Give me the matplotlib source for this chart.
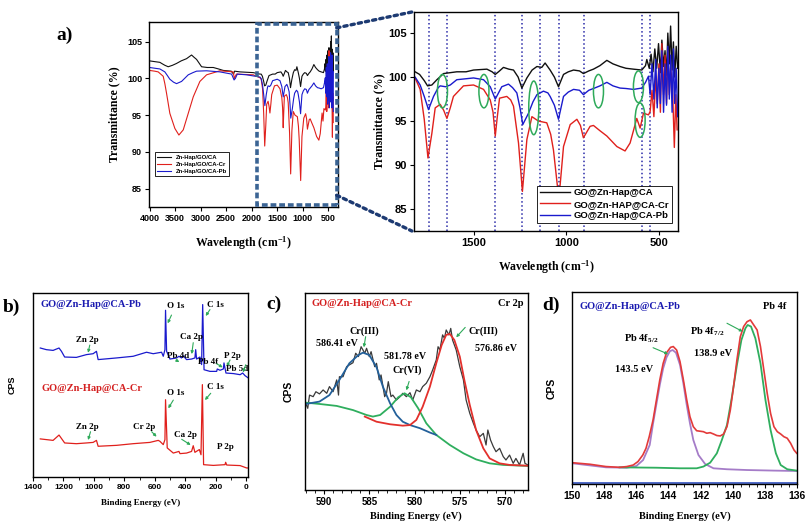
import matplotlib
matplotlib.use("Agg")
import matplotlib.pyplot as plt
from matplotlib.patches import Rectangle, Ellipse, ConnectionPatch
from matplotlib.ticker import MultipleLocator

SERIF = "Liberation Serif"
SANS = "Liberation Sans"
plt.rcParams["font.family"] = SANS
plt.rcParams["font.weight"] = "bold"
plt.rcParams["mathtext.default"] = "regular"

RED = "#e0201c"
BLUE = "#1a1acd"
BLACK = "#101010"
GREEN = "#2eaa5a"

# ── FTIR spectra (wavenumber cm-1, transmittance %) ──────────
wn_ca = [4000, 3900, 3797, 3750, 3700, 3634, 3550, 3471, 3380, 3275, 3177, 3130,
         3079, 3020, 2981, 2870, 2752, 2650, 2557, 2400, 2355, 2335, 2230, 2100,
         1969, 1838, 1814, 1790, 1765, 1747, 1724, 1697, 1661, 1590, 1540, 1500,
         1428, 1400, 1383, 1360, 1339, 1310, 1285, 1260, 1240, 1213, 1185, 1159,
         1133, 1115, 1088, 1065, 1043, 1016, 990, 962, 930, 909, 880, 855, 820,
         783, 750, 712, 680, 640, 595, 575, 568, 555, 545, 535, 525, 515, 505,
         495, 487, 478, 470, 462, 455, 447, 440, 432, 425, 418, 410, 402]
t_ca = [102.4, 102.3, 102.2, 102.0, 101.8, 101.6, 101.8, 102.05, 102.4, 102.7,
        103.2, 102.9, 102.6, 102.0, 101.6, 101.5, 101.5, 101.3, 101.1, 101.0,
        100.6, 101.0, 100.9, 100.85, 100.8, 100.6, 100.6, 100.3, 99.6, 99.0,
        99.1, 99.7, 100.4, 100.6, 100.6, 100.8, 100.9, 100.6, 100.3, 100.7,
        101.1, 100.9, 100.8, 100.0, 98.75, 99.9, 100.8, 101.2, 101.1, 101.6,
        100.8, 100.0, 98.9, 100.3, 100.6, 100.8, 100.7, 100.4, 100.7, 100.9,
        101.3, 101.9, 101.5, 101.2, 101.0, 100.9, 100.8, 101.3, 102.0, 101.0,
        102.6, 100.6, 103.2, 101.0, 103.8, 100.5, 104.2, 101.2, 103.0, 100.2,
        105.0, 101.5, 105.8, 100.8, 104.0, 100.0, 103.5, 101.0]

wn_cr = [4000, 3900, 3830, 3732, 3700, 3667, 3602, 3504, 3425, 3340, 3242, 3144,
         3014, 2883, 2622, 2361, 2340, 2300, 1969, 1838, 1814, 1787, 1765, 1745,
         1724, 1706, 1679, 1660, 1643, 1625, 1608, 1554, 1500, 1446, 1410, 1395,
         1383, 1372, 1360, 1321, 1300, 1285, 1258, 1237, 1213, 1186, 1151, 1106,
         1085, 1070, 1041, 1016, 980, 944, 925, 909, 873, 855, 820, 783, 729, 685,
         658, 622, 604, 586, 559, 550, 540, 530, 520, 512, 503, 495, 487, 478,
         470, 462, 455, 447, 440, 430, 420, 412, 405]
t_cr = [101.1, 101.0, 100.9, 100.3, 99.3, 98.0, 95.25, 93.2, 92.3, 93.0, 95.25,
        97.5, 99.6, 100.5, 101.05, 100.9, 100.0, 100.6, 100.5, 100.1, 99.9, 98.6,
        95.2, 90.8, 93.6, 96.5, 96.9, 96.2, 95.3, 96.5, 97.8, 99.0, 99.1, 98.6,
        97.4, 96.0, 93.3, 95.5, 97.6, 97.8, 97.4, 96.7, 92.5, 87.0, 92.9, 95.5,
        95.0, 94.8, 93.5, 91.7, 86.1, 92.1, 94.6, 95.2, 94.5, 93.1, 94.4, 94.5,
        93.9, 93.3, 92.1, 91.6, 92.5, 95.3, 94.2, 95.9, 95.7, 96.1, 98.5, 95.5,
        100.0, 97.0, 101.5, 96.0, 103.8, 98.0, 102.5, 97.0, 103.0, 98.0, 101.0,
        99.0, 92.0, 98.0, 94.0]

wn_pb = [4000, 3900, 3797, 3700, 3650, 3602, 3530, 3471, 3373, 3300, 3242, 3150,
         3079, 2883, 2622, 2393, 2345, 2320, 2282, 2099, 1969, 1838, 1814, 1787,
         1765, 1742, 1715, 1690, 1679, 1650, 1625, 1590, 1500, 1446, 1410, 1383,
         1348, 1312, 1290, 1267, 1250, 1235, 1204, 1180, 1159, 1124, 1100, 1088,
         1065, 1043, 1016, 990, 962, 930, 909, 880, 855, 820, 783, 750, 712, 680,
         640, 595, 575, 559, 550, 540, 530, 520, 512, 503, 495, 487, 478, 470,
         462, 455, 447, 440, 432, 425, 418, 410, 402]
t_pb = [101.5, 101.4, 101.3, 100.9, 100.4, 99.9, 99.5, 99.3, 99.6, 100.1, 100.5,
        100.8, 101.0, 101.05, 100.9, 100.6, 99.8, 100.0, 100.6, 100.5, 100.35,
        100.2, 100.0, 99.1, 97.8, 96.3, 97.8, 98.8, 99.0, 98.9, 99.1, 99.7, 99.9,
        99.7, 98.9, 97.5, 98.9, 99.2, 98.8, 98.2, 96.5, 94.6, 95.9, 97.2, 98.0,
        98.4, 98.2, 97.8, 96.8, 95.2, 97.8, 98.3, 98.6, 98.5, 98.0, 98.5, 98.7,
        99.0, 99.4, 99.0, 98.75, 98.7, 98.6, 98.75, 99.4, 100.1, 98.0, 101.5,
        97.5, 102.0, 96.5, 101.0, 97.0, 103.0, 96.0, 101.5, 96.8, 103.5, 97.5,
        102.5, 96.0, 103.2, 97.0, 101.0, 95.5]

ZOOM_WN = (1897, 336)
BAND_LINES = [1742, 1643, 1383, 1237, 1145, 1041, 907, 593, 550]
CIRCLE_WN = [1667, 1444, 1176, 828, 613, 604]
CIRCLE_T = [98.4, 98.4, 96.5, 98.4, 98.9, 95.1]
CIRCLE_H = [3.8, 3.8, 6.1, 3.8, 3.6, 3.9]

# ── XPS survey (binding energy eV, relative counts) ──────────
be_pb = [1352, 1312, 1268, 1229, 1213, 1192, 1115, 1049, 1005, 983, 972, 851,
         742, 654, 610, 555, 544, 533, 529, 522, 500, 456, 441, 424, 413, 391,
         358, 336, 331, 325, 303, 292, 285, 276, 237, 193, 189, 171, 149, 145,
         132, 83, 39, 22, 7, -15]
cps_pb = [70.1, 69.2, 68.8, 70.1, 68.3, 65.2, 65.0, 66.5, 67.0, 68.3, 63.8, 64.7,
          65.6, 67.8, 67.0, 67.8, 65.6, 69.2, 90.6, 68.3, 64.1, 64.7, 65.6, 64.7,
          65.9, 63.8, 64.1, 64.7, 69.2, 64.1, 65.2, 61.1, 93.7, 58.3, 57.4, 57.4,
          58.7, 58.0, 58.7, 62.0, 56.5, 56.2, 55.6, 56.5, 55.1, 53.8]
be_cr = [1352, 1268, 1229, 1192, 1115, 1049, 1005, 983, 972, 851, 742, 632, 577,
         566, 544, 533, 529, 518, 478, 441, 434, 391, 358, 347, 336, 307, 296,
         287, 279, 215, 138, 134, 127, 39, -4, -15]
cps_cr = [20.7, 19.9, 22.8, 18.5, 18.1, 18.5, 18.8, 19.9, 16.7, 17.2, 18.1, 18.8,
          19.9, 19.4, 17.6, 20.3, 42.0, 15.8, 13.0, 13.9, 12.7, 13.0, 13.9, 17.0,
          13.4, 14.9, 12.1, 50.2, 6.7, 6.3, 6.7, 8.0, 6.5, 6.2, 4.9, 4.9]

# ── Cr 2p high resolution ───────────────────────────────────
cr_be = [592.1, 591.8, 591.6, 591.2, 590.9, 590.5, 590.1, 589.7, 589.4, 589.0,
         588.6, 588.4, 588.3, 587.9, 587.5, 587.2, 586.8, 586.5, 586.2, 585.9,
         585.5, 585.3, 585.0, 584.8, 584.4, 584.2, 583.9, 583.7, 583.3, 583.1,
         582.9, 582.6, 582.4, 582.0, 581.6, 581.3, 580.9, 580.5, 580.2, 579.8,
         579.4, 579.1, 578.7, 578.3, 578.0, 577.6, 577.4, 577.2, 576.9, 576.7,
         576.5, 576.2, 576.0, 575.8, 575.4, 575.0, 574.6, 574.3, 573.9, 573.5,
         573.2, 572.8, 572.4, 572.1, 571.9, 571.6, 571.3, 571.0, 570.6, 570.2,
         569.9, 569.5, 569.1, 568.8, 568.4, 568.0, 567.8, 567.5]
cr_raw = [44.8, 41.4, 48.1, 47.3, 49.8, 48.7, 50.7, 49.0, 52.4, 49.8,
          55.8, 48.1, 57.4, 57.4, 62.5, 63.4, 64.5, 69.3, 67.6, 72.6,
          69.3, 71.8, 67.6, 70.1, 62.5, 64.2, 55.8, 58.3, 47.3, 49.0,
          54.9, 47.3, 48.1, 45.6, 47.3, 49.0, 47.3, 49.3, 45.6, 50.7,
          49.8, 52.4, 54.1, 57.4, 60.8, 65.9, 72.6, 71.0, 78.6, 76.9,
          81.1, 78.6, 81.9, 76.0, 71.0, 62.5, 55.8, 45.6, 38.9, 33.8,
          30.4, 27.0, 28.7, 22.8, 30.4, 25.3, 22.0, 19.4, 21.1, 16.9,
          15.2, 17.7, 13.5, 16.0, 12.7, 18.6, 13.5, 12.7]
cr3a_be = [592.0, 590.5, 589.4, 588.3, 587.2, 586.2, 585.7, 585.0, 584.2, 583.5,
           582.7, 582.0, 581.3, 580.5, 579.4, 578.3, 577.6]
cr3a_fit = [43.6, 44.8, 48.1, 55.8, 64.2, 68.4, 69.6, 68.4, 62.2, 52.4,
            43.9, 38.0, 34.6, 32.9, 31.3, 29.1, 27.9]
cr6_be = [592.1, 590.5, 588.6, 586.8, 585.3, 584.6, 583.8, 582.7, 581.8, 581.1,
          580.4, 579.6, 578.7, 577.6, 576.1, 574.6, 573.2, 571.7, 570.2, 567.5]
cr6_fit = [44.3, 43.6, 42.6, 40.5, 38.0, 37.2, 38.0, 42.2, 47.0, 49.0,
           47.0, 41.4, 33.8, 27.9, 22.8, 18.6, 15.5, 13.5, 12.7, 12.2]
cr3b_be = [585.5, 584.2, 582.7, 581.3, 580.5, 579.8, 579.1, 578.3, 577.6, 577.0,
           576.5, 576.1, 575.6, 575.0, 574.5, 573.9, 573.2, 572.4, 571.7, 570.6,
           569.5, 567.5]
cr3b_fit = [37.2, 34.6, 33.3, 32.6, 32.9, 35.5, 42.2, 52.4, 64.2, 73.5,
            78.6, 79.1, 76.0, 67.6, 55.8, 43.1, 30.4, 21.1, 16.0, 13.5,
            12.7, 12.3]

# ── Pb 4f high resolution ───────────────────────────────────
pb_be = [150.0, 148.9, 147.9, 147.05, 146.6, 146.2, 145.9, 145.6, 145.4, 145.2,
         144.96, 144.75, 144.54, 144.33, 144.12, 143.87, 143.7, 143.49, 143.28,
         143.07, 142.86, 142.66, 142.45, 142.24, 141.82, 141.61, 141.4, 141.19,
         140.98, 140.77, 140.56, 140.35, 140.14, 139.94, 139.73, 139.52, 139.31,
         139.1, 138.89, 138.68, 138.47, 138.26, 138.05, 137.84, 137.63, 137.42,
         137.21, 137.0, 136.8, 136.59, 136.38, 136.17, 136.0]
pb_raw = [11.2, 10.4, 9.2, 8.8, 9.2, 10.0, 11.8, 15.2, 18.7, 24.7,
          33.4, 43.8, 54.2, 62.8, 68.3, 71.1, 71.5, 69.7, 63.7,
          54.2, 43.8, 35.1, 29.9, 27.8, 27.3, 26.5, 26.8, 26.1,
          25.3, 25.1, 26.1, 29.9, 38.6, 50.7, 64.5, 76.6, 81.9,
          84.4, 85.3, 82.7, 80.1, 71.5, 59.3, 47.2, 36.8, 29.9,
          27.3, 26.1, 24.7, 23.9, 21.3, 17.8, 16.1]
pb52_be = [150.0, 147.9, 146.6, 146.0, 145.58, 145.17, 144.96, 144.75, 144.54,
           144.33, 144.12, 143.91, 143.74, 143.53, 143.28, 143.07, 142.86,
           142.66, 142.45, 142.13, 141.71, 141.19, 140.35, 139.1, 137.42, 136.0]
pb52_fit = [10.9, 8.8, 8.6, 9.5, 12.6, 20.4, 31.6, 41.7, 51.6,
            60.2, 65.9, 69.1, 69.7, 68.3, 62.0, 52.4, 41.2,
            31.7, 23.0, 15.2, 10.5, 8.3, 7.8, 7.4, 7.1, 6.9]
pb72_be = [147.05, 144.75, 143.28, 142.24, 141.82, 141.4, 140.98, 140.67, 140.35,
           140.04, 139.73, 139.45, 139.2, 139.06, 138.85, 138.58, 138.26, 137.95,
           137.63, 137.3, 137.0, 136.59, 136.0]
pb72_fit = [8.8, 8.6, 8.3, 8.3, 9.2, 11.2, 16.1, 23.0, 30.8,
            45.5, 61.9, 74.9, 81.0, 82.7, 81.9, 75.8, 62.8, 43.8,
            28.2, 16.1, 10.0, 7.8, 7.1]
pb_base_be = [150.0, 136.0]
pb_base = [0.5, 0.5]


def style_axis(ax, tick_size):
    ax.tick_params(direction="out", length=3, width=0.8, labelsize=tick_size, pad=2)
    ax.tick_params(which="minor", direction="out", length=1.8, width=0.6)
    for s in ax.spines.values():
        s.set_linewidth(1.0)
        s.set_color("black")


def serif_label(ax, xlabel, ylabel, size, xy_x, xy_y, ysans=False):
    ax.set_xlabel(xlabel, fontfamily=SERIF, fontweight="bold", fontsize=size)
    if ysans:
        ax.set_ylabel(ylabel, fontfamily=SANS, fontweight="bold", fontsize=size)
    else:
        ax.set_ylabel(ylabel, fontfamily=SERIF, fontweight="bold", fontsize=size)
    ax.xaxis.set_label_coords(0.5, xy_x)
    ax.yaxis.set_label_coords(xy_y, 0.5)


def tag(ax, s, x, y, size=6.5, color="black", ha="center", transform=None):
    ax.text(x, y, s, fontfamily=SERIF, fontweight="bold", fontsize=size,
            color=color, ha=ha, va="center",
            transform=transform if transform is not None else ax.transData)


def arrow(ax, tail, tip):
    ax.annotate("", xy=tip, xytext=tail,
                arrowprops=dict(arrowstyle="-|>", color=GREEN, lw=0.8,
                                mutation_scale=4, shrinkA=0, shrinkB=0))


fig = plt.figure(figsize=(8.05, 5.28), dpi=100, facecolor="white")

# ── a) left: full FTIR ──────────────────────────────────────
axL = fig.add_axes([0.1851, 0.6080, 0.2348, 0.3504])
axL.plot(wn_ca, t_ca, color=BLACK, lw=0.8, label="Zn-Hap/GO/CA")
axL.plot(wn_cr, t_cr, color=RED, lw=0.8, label="Zn-Hap/GO/CA-Cr")
axL.plot(wn_pb, t_pb, color=BLUE, lw=0.8, label="Zn-Hap/GO/CA-Pb")
axL.set_xlim(4010, 310)
axL.set_ylim(82.5, 107.7)
axL.xaxis.set_major_locator(MultipleLocator(500))
axL.yaxis.set_major_locator(MultipleLocator(5))
style_axis(axL, 6.5)
serif_label(axL, "Wavelength (cm$^{-1}$)", "Transmittance (%)", 8.5, -0.15, -0.15)
leg = axL.legend(loc="lower left", bbox_to_anchor=(0.015, 0.15), fontsize=4.3,
                 handlelength=2.4, borderpad=0.35, labelspacing=0.35,
                 fancybox=False, edgecolor="black", framealpha=1)
leg.get_frame().set_linewidth(0.6)
axL.add_patch(Rectangle((ZOOM_WN[1], 82.8), ZOOM_WN[0] - ZOOM_WN[1], 24.6,
                        fill=False, ec="#3b6494", lw=2.6, ls=(0, (1.6, 0.8)),
                        clip_on=False, zorder=5))
fig.text(65 / 805, 1 - 35 / 528, "a)", fontfamily=SERIF, fontweight="bold",
         fontsize=14, ha="center", va="center")

# ── a) right: zoomed FTIR ───────────────────────────────────
axR = fig.add_axes([0.5143, 0.5625, 0.3280, 0.4148])
axR.plot(wn_ca, t_ca, color=BLACK, lw=1.0, label="GO@Zn-Hap@CA")
axR.plot(wn_cr, t_cr, color=RED, lw=1.0, label="GO@Zn-HAP@CA-Cr")
axR.plot(wn_pb, t_pb, color=BLUE, lw=1.0, label="GO@Zn-Hap@CA-Pb")
for b in BAND_LINES:
    axR.axvline(b, color="#2a2aa8", ls=":", lw=1.1, zorder=1)
for cx, cy, ch in zip(CIRCLE_WN, CIRCLE_T, CIRCLE_H):
    axR.add_patch(Ellipse((cx, cy), 54, ch, fill=False, ec=GREEN, lw=1.1, zorder=4))
axR.set_xlim(1820, 400)
axR.set_ylim(82.5, 107.4)
axR.xaxis.set_major_locator(MultipleLocator(500))
axR.yaxis.set_major_locator(MultipleLocator(5))
style_axis(axR, 8)
serif_label(axR, "Wavelength (cm$^{-1}$)", "Transmittance (%)", 8.5, -0.125, -0.11)
leg = axR.legend(loc="lower right", bbox_to_anchor=(0.995, 0.015), fontsize=6.8,
                 handlelength=3.2, borderpad=0.3, labelspacing=0.25,
                 handletextpad=0.4, fancybox=False, edgecolor="black", framealpha=1)
leg.get_frame().set_linewidth(0.6)
for yA, yB in ((106.9, 1.0), (84.1, 0.0)):
    con = ConnectionPatch(xyA=(ZOOM_WN[1], yA), coordsA=axL.transData,
                          xyB=(-0.008, yB), coordsB=axR.transAxes,
                          color="#1d3a72", lw=2.4, ls=(0, (1, 1.2)))
    fig.add_artist(con)

# ── b) XPS survey ───────────────────────────────────────────
axB = fig.add_axes([0.0410, 0.0966, 0.2671, 0.3485])
axB.plot(be_pb, cps_pb, color=BLUE, lw=0.9)
axB.plot(be_cr, cps_cr, color=RED, lw=0.9)
axB.set_xlim(1400, -13)
axB.set_ylim(0, 100)
axB.xaxis.set_major_locator(MultipleLocator(200))
axB.xaxis.set_minor_locator(MultipleLocator(100))
axB.set_yticks([])
style_axis(axB, 6)
serif_label(axB, "Binding Energy (eV)", "CPS", 6.5, -0.12, -0.075, ysans=True)
tag(axB, "GO@Zn-Hap@CA-Pb", 0.035, 0.935, size=7.5, color="#1a1ab0", ha="left",
    transform=axB.transAxes)
tag(axB, "GO@Zn-Hap@CA-Cr", 0.04, 0.48, size=7.5, color="#d42020", ha="left",
    transform=axB.transAxes)
survey_tags = [
    ("O 1s", (461, 93), (490, 88), (515, 83.5)),
    ("C 1s", (202, 93.7), (237, 91), (265, 87.5)),
    ("Zn 2p", (1046, 74.5), (1027, 71.7), (1038, 67.5)),
    ("Ca 2p", (362, 76.1), (347, 73), (357, 66.8)),
    ("Pb 4d", (448, 65.5), (460, 63.5), (438, 62.5)),
    ("Pb 4f", (250, 62.5), (193, 61.5), (153, 59.6)),
    ("P 2p", (92, 66), (105, 63.6), (127, 60)),
    ("Pb 5d", (60, 58.7), (2, 61), (20, 56.8)),
    ("O 1s", (461, 45.7), (478, 41.8), (511, 37.3)),
    ("C 1s", (204, 48.9), (232, 45.5), (270, 41.8)),
    ("Zn 2p", (1046, 27.2), (1022, 24.6), (1038, 20.1)),
    ("Cr 2p", (671, 27.2), (620, 24.6), (588, 21.9)),
    ("Ca 2p", (395, 22.8), (423, 20.5), (364, 17.4)),
]
for s, txy, tail, tip in survey_tags:
    tag(axB, s, txy[0], txy[1], size=6.5)
    arrow(axB, tail, tip)
tag(axB, "P 2p", 138, 16.3, size=6.5)
fig.text(11 / 805, 1 - 307 / 528, "b)", fontfamily=SERIF, fontweight="bold",
         fontsize=14, ha="center", va="center")

# ── c) Cr 2p ────────────────────────────────────────────────
axC = fig.add_axes([0.3789, 0.0720, 0.2766, 0.3737])
axC.plot(cr_be, cr_raw, color="#3a3a3a", lw=0.9)
axC.plot(cr6_be, cr6_fit, color="#2fae5e", lw=1.3)
axC.plot(cr3a_be, cr3a_fit, color="#23609a", lw=1.3)
axC.plot(cr3b_be, cr3b_fit, color="#e3302c", lw=1.3)
axC.set_xlim(592.1, 567.5)
axC.set_ylim(0, 100)
axC.xaxis.set_major_locator(MultipleLocator(5))
axC.xaxis.set_minor_locator(MultipleLocator(1))
axC.set_yticks([])
style_axis(axC, 7)
serif_label(axC, "Binding Energy (eV)", "CPS", 7.5, -0.11, -0.05, ysans=True)
tag(axC, "GO@Zn-Hap@CA-Cr", 0.03, 0.943, size=7.5, color="#d42020", ha="left",
    transform=axC.transAxes)
tag(axC, "Cr 2p", 0.98, 0.943, size=7.5, ha="right", transform=axC.transAxes)
tag(axC, "Cr(III)", 0.265, 0.807, size=7.2, transform=axC.transAxes)
tag(axC, "586.41 eV", 0.142, 0.740, size=7.2, transform=axC.transAxes)
tag(axC, "581.78 eV", 0.449, 0.676, size=7.2, transform=axC.transAxes)
tag(axC, "Cr(VI)", 0.457, 0.605, size=7.2, transform=axC.transAxes)
tag(axC, "Cr(III)", 0.80, 0.807, size=7.2, transform=axC.transAxes)
tag(axC, "576.86 eV", 0.857, 0.718, size=7.2, transform=axC.transAxes)
arrow(axC, (585.4, 77.7), (585.6, 72.3))
arrow(axC, (580.6, 55.0), (580.9, 50.5))
arrow(axC, (574.4, 82.4), (575.4, 77.4))
fig.text(274 / 805, 1 - 304 / 528, "c)", fontfamily=SERIF, fontweight="bold",
         fontsize=14, ha="center", va="center")

# ── d) Pb 4f ────────────────────────────────────────────────
axD = fig.add_axes([0.7109, 0.0828, 0.2788, 0.3648])
axD.plot(pb_base_be, pb_base, color="#3050c0", lw=1.2)
axD.plot(pb52_be, pb52_fit, color="#a57cc8", lw=1.3)
axD.plot(pb72_be, pb72_fit, color="#2fae5e", lw=1.3)
axD.plot(pb_be, pb_raw, color="#e33a3a", lw=1.2)
axD.set_xlim(150, 136)
axD.set_ylim(0, 100)
axD.xaxis.set_major_locator(MultipleLocator(2))
axD.xaxis.set_minor_locator(MultipleLocator(0.5))
axD.set_yticks([])
style_axis(axD, 7.5)
serif_label(axD, "Binding Energy (eV)", "CPS", 7.5, -0.14, -0.068, ysans=True)
tag(axD, "GO@Zn-Hap@CA-Pb", 0.031, 0.921, size=7.5, color="#1a1ab0", ha="left",
    transform=axD.transAxes)
tag(axD, "Pb 4f", 0.955, 0.921, size=7.5, ha="right", transform=axD.transAxes)
tag(axD, "Pb 4f$_{5/2}$", 0.309, 0.758, size=7.5, transform=axD.transAxes)
tag(axD, "143.5 eV", 0.276, 0.597, size=7.5, transform=axD.transAxes)
tag(axD, "Pb 4f$_{7/2}$", 0.602, 0.792, size=7.5, transform=axD.transAxes)
tag(axD, "138.9 eV", 0.628, 0.679, size=7.5, transform=axD.transAxes)
arrow(axD, (144.96, 70.9), (144.02, 67.6))
arrow(axD, (140.35, 83.6), (139.37, 79.3))
fig.text(551 / 805, 1 - 305 / 528, "d)", fontfamily=SERIF, fontweight="bold",
         fontsize=14, ha="center", va="center")

fig.savefig("out.png", dpi=100, facecolor="white")
